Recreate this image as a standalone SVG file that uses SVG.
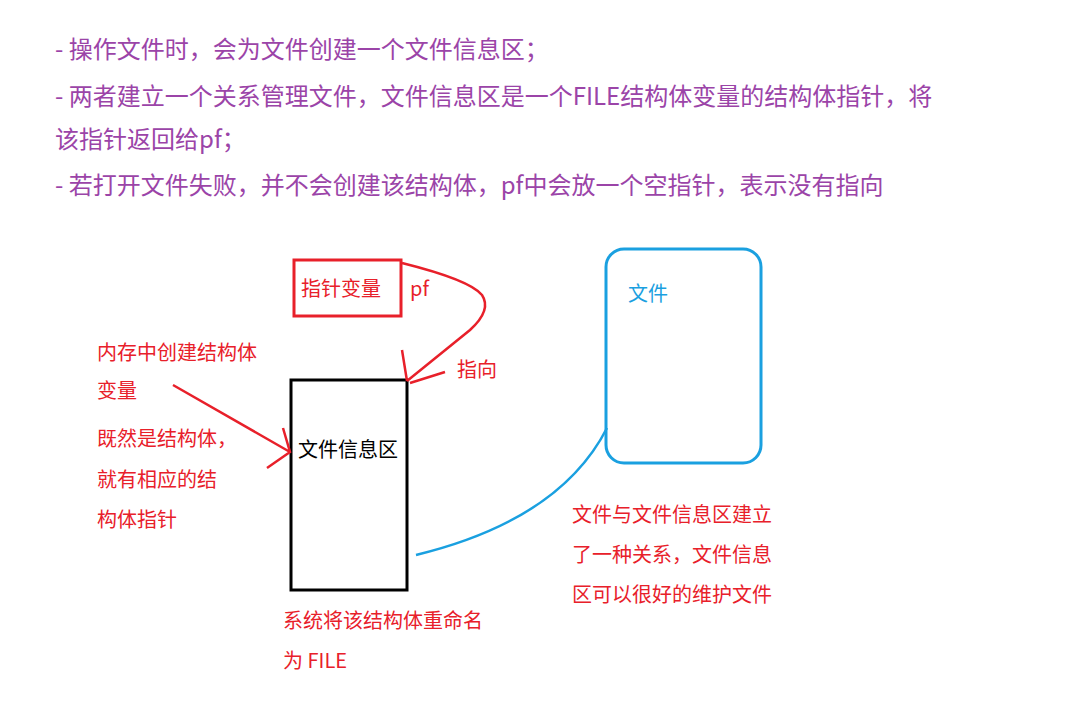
<svg xmlns="http://www.w3.org/2000/svg" width="1091" height="716" viewBox="0 0 1091 716">
<style>
text{font-family:"Microsoft YaHei","Noto Sans CJK SC",sans-serif}
.p{fill:#9b44a8;font-size:24px}
.r{fill:#e8202a;font-size:20px}
.rl{stroke:#e8202a;stroke-width:2.5;fill:none}
</style>
<rect width="1091" height="716" fill="#fff"/>
<g id="header">
<text class="p" x="55" y="58">- 操作文件时，会为文件创建一个文件信息区；</text>
<text class="p" x="55" y="105">- 两者建立一个关系管理文件，文件信息区是一个FILE结构体变量的结构体指针，将</text>
<text class="p" x="55" y="148">该指针返回给pf；</text>
<text class="p" x="55" y="194">- 若打开文件失败，并不会创建该结构体，pf中会放一个空指针，表示没有指向</text>
</g>
<g id="pointer">
<rect x="294" y="260" width="107" height="56" fill="none" stroke="#e8202a" stroke-width="3"/>
<text class="r" x="301" y="296">指针变量</text>
<text class="r" x="410" y="296">pf</text>
</g>
<g id="fileinfo">
<rect x="291" y="380" width="116" height="210" fill="none" stroke="#000" stroke-width="3"/>
<text x="298" y="457" font-size="20" fill="#000">文件信息区</text>
</g>
<g id="file">
<rect x="606" y="249" width="155" height="214" rx="18" fill="none" stroke="#1aa0e0" stroke-width="3"/>
<text x="628" y="301" font-size="20" fill="#1aa0e0">文件</text>
</g>
<g id="labels">
<text class="r" x="97" y="360">内存中创建结构体</text>
<text class="r" x="97" y="398">变量</text>
<text class="r" x="97" y="446">既然是结构体，</text>
<text class="r" x="97" y="487">就有相应的结</text>
<text class="r" x="97" y="527">构体指针</text>
<text class="r" x="457" y="377">指向</text>
<text class="r" x="283" y="628">系统将该结构体重命名</text>
<text class="r" x="283" y="668">为  FILE</text>
<text class="r" x="572" y="522">文件与文件信息区建立</text>
<text class="r" x="572" y="562">了一种关系，文件信息</text>
<text class="r" x="572" y="602">区可以很好的维护文件</text>
</g>
<g id="connectors">
<path class="rl" d="M402 263 Q470 280 482 295 Q492 310 470 330 L407 381"/>
<path class="rl" d="M402 350 L407 381 M445 372 L410 383"/>
<path class="rl" d="M173 385 L290 452 M283 428 L290 452 L267 468"/>
<path d="M416 555 Q560 520 607 428" fill="none" stroke="#1aa0e0" stroke-width="2.5"/>
</g>
</svg>
